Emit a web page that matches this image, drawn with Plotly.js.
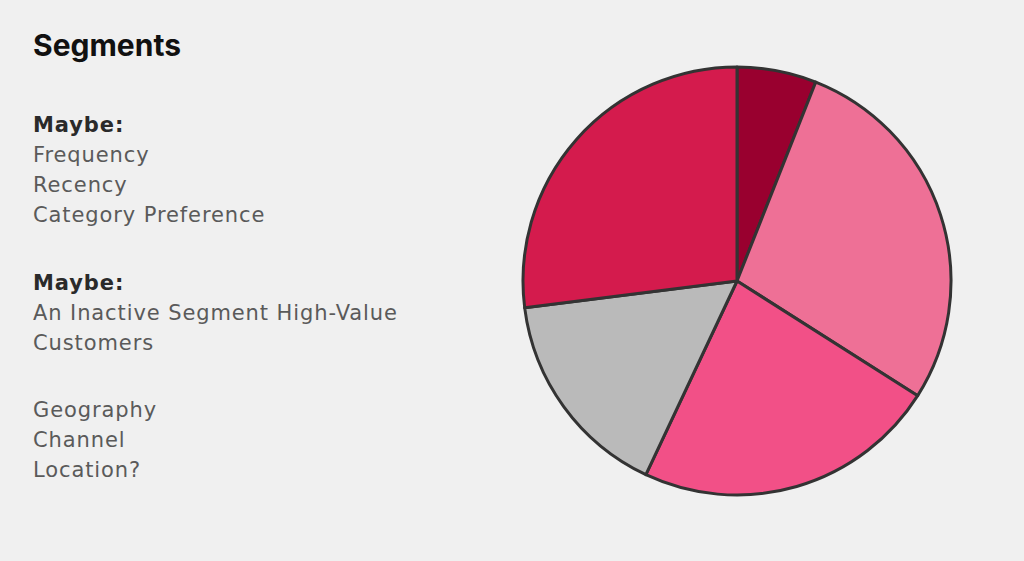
<!DOCTYPE html>
<html>
<head>
<meta charset="utf-8">
<script src="https://cdn.plot.ly/plotly-3.0.1.min.js"></script>
<style>
html,body{margin:0;padding:0;background:#f0f0f0;}
#chart{width:1024px;height:561px;}
.body-text .annotation-text{letter-spacing:0.9px;}
</style>
</head>
<body>
<div id="chart"></div>
<script>
const segmentLabels = ["Segment A", "Segment B", "Segment C", "Segment D", "Segment E"];
const segmentValues = [6, 28, 23, 16, 27];
const segmentColors = ["#99002f", "#ee7096", "#f25087", "#bababa", "#d41b4d"];

const titleText = "Segments";
const group1Heading = "Maybe:";
const group1Lines = ["Frequency", "Recency", "Category Preference"];
const group2Heading = "Maybe:";
const group2Lines = ["An Inactive Segment High-Value", "Customers"];
const group3Lines = ["Geography", "Channel", "Location?"];

const W = 1024, H = 561;
const FONT = "'DejaVu Sans', sans-serif";
const TFONT = "Inter, sans-serif";

// baselines in px from top
const items = [];
items.push({text: "<b>" + titleText + "</b>", base: 56, size: 30, color: "#111111", f: TFONT});
let b = 133;
items.push({text: "<b>" + group1Heading + "</b>", base: b, size: 21, color: "#2a2a2a", f: FONT});
group1Lines.forEach((t, i) => items.push({text: t, base: b + 30 * (i + 1), size: 21, color: "#5a5a5a", f: FONT}));
b = 291;
items.push({text: "<b>" + group2Heading + "</b>", base: b, size: 21, color: "#2a2a2a", f: FONT});
group2Lines.forEach((t, i) => items.push({text: t, base: b + 30 * (i + 1), size: 21, color: "#5a5a5a", f: FONT}));
b = 418;
group3Lines.forEach((t, i) => items.push({text: t, base: b + 30 * i, size: 21, color: "#5a5a5a", f: FONT}));

const annotations = items.map(it => ({
  text: it.text,
  xref: "paper", yref: "paper",
  x: 31 / W,
  y: (H - it.base) / H,
  xanchor: "left", yanchor: "bottom",
  yshift: -it.size * 0.3,
  showarrow: false,
  align: "left",
  font: {family: it.f, size: it.size, color: it.color}
}));

const cx = 737, cy = 281, r = 214;
const trace = {
  type: "pie",
  labels: segmentLabels,
  values: segmentValues,
  sort: false,
  direction: "clockwise",
  rotation: 0,
  textinfo: "none",
  hoverinfo: "skip",
  showlegend: false,
  marker: {colors: segmentColors, line: {color: "#333333", width: 3}},
  domain: {x: [(cx - r) / W, (cx + r) / W], y: [(H - cy - r) / H, (H - cy + r) / H]}
};

const layout = {
  width: W, height: H,
  margin: {l: 0, r: 0, t: 0, b: 0},
  paper_bgcolor: "#f0f0f0",
  plot_bgcolor: "#f0f0f0",
  showlegend: false,
  annotations: annotations
};

Plotly.newPlot("chart", [trace], layout, {displayModeBar: false, staticPlot: true}).then(function (gd) {
  const anns = gd.querySelectorAll(".annotation");
  anns.forEach(function (a, i) { if (i > 0) a.classList.add("body-text"); });
});
</script>
</body>
</html>
